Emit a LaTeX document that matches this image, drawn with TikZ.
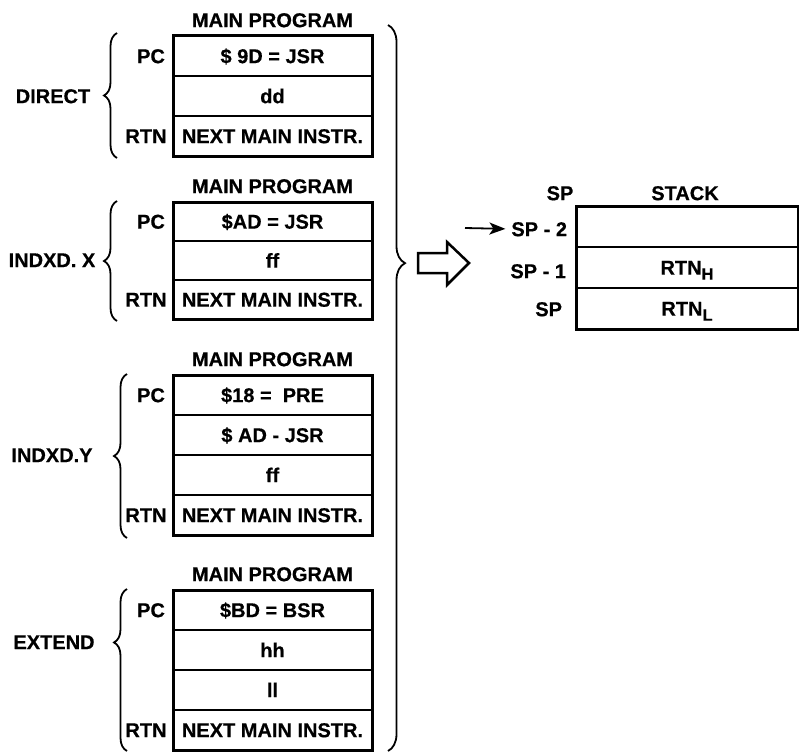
\documentclass[tikz,border=0pt]{standalone}
\usepackage{fontspec}
\setmainfont{Liberation Sans}[BoldFeatures={FakeBold=0.5}]
\usetikzlibrary{decorations.pathreplacing,arrows.meta}
\newcommand\fs{\fontsize{20}{20}\selectfont\bfseries}
\newcommand\subfs{\fontsize{16.5}{16.5}\selectfont\bfseries}
\tikzset{
  cell/.style={draw, line width=2.2pt, minimum width=199pt, minimum height=#1,
    inner sep=0pt, outer sep=0pt, text height=14.3pt, text depth=0pt, font=\fs},
  scell/.style={draw, line width=2.2pt, minimum width=222pt, minimum height=41pt,
    inner sep=0pt, outer sep=0pt, text height=14.3pt, text depth=0pt, font=\fs},
  lbl/.style={inner sep=0pt, outer sep=0pt, text height=14.3pt, text depth=0pt, font=\fs},
  outline/.style={line width=3pt},
  brc/.style={decorate, decoration={brace, amplitude=13pt, aspect=#1}, line width=1.8pt},
  rbrc/.style={decorate, decoration={brace, amplitude=17pt, aspect=#1}, line width=1.8pt},
}
\begin{document}
\begin{tikzpicture}[x=1pt,y=-1pt]
\fill[white] (0,0) rectangle (799,752);
\useasboundingbox (0,0) rectangle (799,752);

% ---------- Block 1: DIRECT ----------
\node[lbl] (t1) at (272.5,20) {MAIN PROGRAM};
\node[cell=40pt] (a1) at (272.5,56) {\$ 9D = JSR};
\node[cell=40pt] (a2) at (272.5,96) {dd};
\node[cell=40pt] (a3) at (272.5,136) {NEXT MAIN INSTR.};
\draw[outline] (a1.north west) rectangle (a3.south east);
\node[lbl] (pc1) at (151,56) {PC};
\node[lbl] (rtn1) at (146,136) {RTN};
\node[lbl] (m1) at (53,96) {DIRECT};
\coordinate (b1s) at (117,158);
\coordinate (b1e) at (117,33);
\draw[brc=0.5] (b1s) -- (b1e);

% ---------- Block 2: INDXD. X ----------
\node[lbl] (t2) at (272.5,186) {MAIN PROGRAM};
\node[cell=39pt] (b1) at (272.5,221.5) {\$AD = JSR};
\node[cell=39pt] (b2) at (272.5,260.5) {ff};
\node[cell=39pt] (b3) at (272.5,299.5) {NEXT MAIN INSTR.};
\draw[outline] (b1.north west) rectangle (b3.south east);
\node[lbl] (pc2) at (151,221.5) {PC};
\node[lbl] (rtn2) at (146,299.5) {RTN};
\node[lbl] (m2) at (52,260) {INDXD. X};
\coordinate (b2s) at (117,321);
\coordinate (b2e) at (117,201);
\draw[brc=0.5] (b2s) -- (b2e);

% ---------- Block 3: INDXD.Y ----------
\node[lbl] (t3) at (272.5,359) {MAIN PROGRAM};
\node[cell=40pt] (c1) at (272.5,395) {\$18 =\ \ PRE};
\node[cell=40pt] (c2) at (272.5,435) {\$ AD - JSR};
\node[cell=40pt] (c3) at (272.5,475) {ff};
\node[cell=40pt] (c4) at (272.5,515) {NEXT MAIN INSTR.};
\draw[outline] (c1.north west) rectangle (c4.south east);
\node[lbl] (pc3) at (151,395) {PC};
\node[lbl] (rtn3) at (146,515) {RTN};
\node[lbl] (m3) at (52,455) {INDXD.Y};
\coordinate (b3s) at (127,538);
\coordinate (b3e) at (127,374);
\draw[brc=0.5] (b3s) -- (b3e);

% ---------- Block 4: EXTEND ----------
\node[lbl] (t4) at (272.5,574) {MAIN PROGRAM};
\node[cell=40pt] (d1) at (272.5,610) {\$BD = BSR};
\node[cell=40pt] (d2) at (272.5,650) {hh};
\node[cell=40pt] (d3) at (272.5,690) {ll};
\node[cell=40pt] (d4) at (272.5,730) {NEXT MAIN INSTR.};
\draw[outline] (d1.north west) rectangle (d4.south east);
\node[lbl] (pc4) at (151,610) {PC};
\node[lbl] (rtn4) at (146,730) {RTN};
\node[lbl] (m4) at (54,642) {EXTEND};
\coordinate (b4s) at (127,751);
\coordinate (b4e) at (127,589);
\draw[brc=0.67] (b4s) -- (b4e);

% ---------- Right bracket ----------
\coordinate (rbs) at (388,25);
\coordinate (rbe) at (388,751);
\draw[rbrc=0.328] (rbs) -- (rbe);

% ---------- Hollow arrow ----------
\draw[line width=2.5pt, line join=miter]
  (418,253) -- (447,253) -- (447,242) -- (469,263) -- (447,285) -- (447,273) -- (418,273) -- cycle;

% ---------- Stack ----------
\node[lbl] (sph) at (560,193) {SP};
\node[lbl] (stk) at (685,193) {STACK};
\node[scell] (s1) at (687,226.5) {};
\node[scell] (s2) at (687,267.5) {RTN\raisebox{-5pt}{\subfs H}};
\node[scell] (s3) at (687,308.5) {RTN\raisebox{-5pt}{\subfs L}};
\draw[outline] (s1.north west) rectangle (s3.south east);
\node[lbl, anchor=east] (sp2) at (567,229) {SP - 2};
\node[lbl, anchor=east] (sp1) at (566,271) {SP - 1};
\node[lbl, anchor=east] (sp0) at (562,309) {SP};
\coordinate (ptr) at (465,228);
\draw[line width=1.8pt, -{Stealth[length=16pt,width=12pt,inset=4pt]}, shorten >=6pt] (ptr) -- (sp2.west);
\end{tikzpicture}
\end{document}
